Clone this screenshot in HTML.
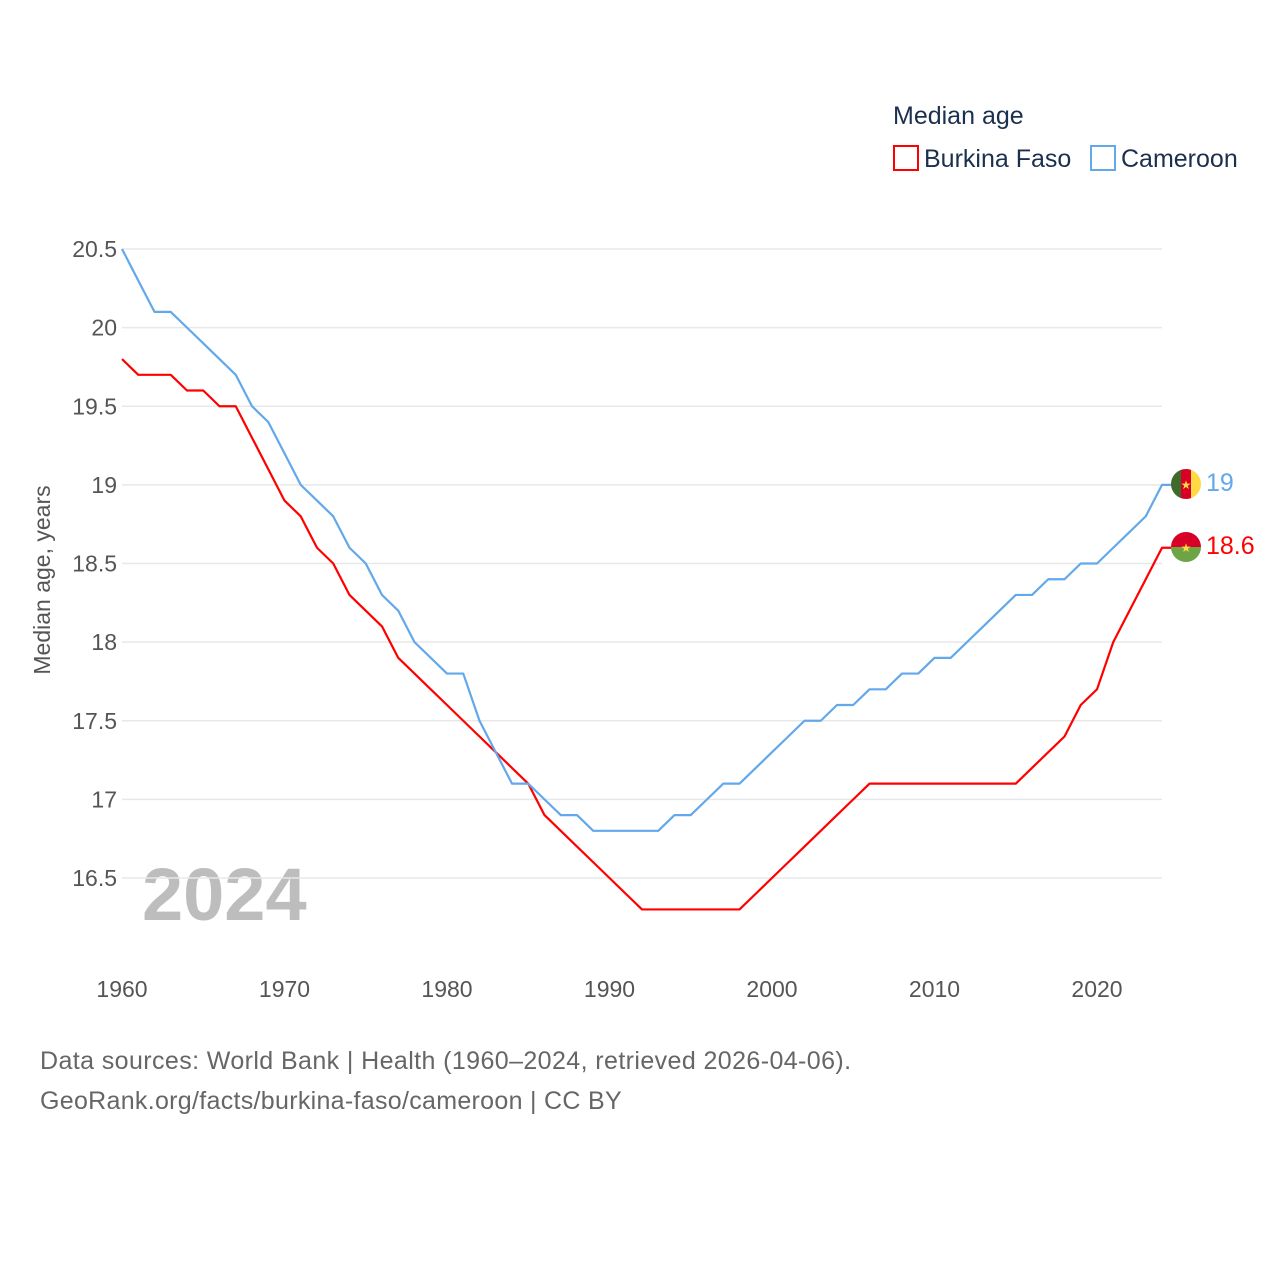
<!DOCTYPE html>
<html><head><meta charset="utf-8"><style>
body{margin:0;background:#fff;font-family:"Liberation Sans",sans-serif}
svg text{font-family:"Liberation Sans",sans-serif}
</style></head><body>
<svg id="c" width="1280" height="1280" viewBox="0 0 1280 1280">
<text x="893" y="124" font-size="25" fill="#1b2f4e">Median age</text>
<rect x="894" y="146" width="24" height="24" fill="none" stroke="#f00" stroke-width="2"/>
<text x="924" y="167" font-size="25" fill="#1b2f4e">Burkina Faso</text>
<rect x="1091" y="146" width="24" height="24" fill="none" stroke="#62a8ea" stroke-width="2"/>
<text x="1121" y="167" font-size="25" fill="#1b2f4e">Cameroon</text>
<text transform="translate(50,580) rotate(-90)" text-anchor="middle" font-size="23" fill="#555">Median age, years</text>
<text x="142" y="920" font-size="74" font-weight="bold" fill="#bdbdbd">2024</text>
<g id="grid"></g><g id="xt"></g><g id="lines"></g>
<g>
<clipPath id="cc"><circle cx="1186" cy="484" r="15"/></clipPath>
<g clip-path="url(#cc)"><rect x="1171" y="469" width="10" height="30" fill="#3f6b2a"/><rect x="1181" y="469" width="10" height="30" fill="#d80027"/><rect x="1191" y="469" width="10" height="30" fill="#ffda44"/></g>
<text x="1186" y="489" text-anchor="middle" font-size="12" fill="#ffda44">★</text></g>
<g>
<clipPath id="cb"><circle cx="1186" cy="547" r="15"/></clipPath>
<g clip-path="url(#cb)"><rect x="1171" y="532" width="30" height="15" fill="#d80027"/><rect x="1171" y="547" width="30" height="15" fill="#6da544"/></g>
<text x="1186" y="552" text-anchor="middle" font-size="12" fill="#ffda44">★</text></g>
<text x="1206" y="491" font-size="25" fill="#62a8ea">19</text>
<text x="1206" y="554" font-size="25" fill="#f00">18.6</text>
<text x="40" y="1069" font-size="25" fill="#666" letter-spacing="0.4">Data sources: World Bank | Health (1960–2024, retrieved 2026-04-06).</text>
<text x="40" y="1109" font-size="25" fill="#666" letter-spacing="0.3">GeoRank.org/facts/burkina-faso/cameroon | CC BY</text>
</svg>
<script>
const years=[];for(let y=1960;y<=2024;y++)years.push(y);
const burkina=[19.8,19.7,19.7,19.7,19.6,19.6,19.5,19.5,19.3,19.1,18.9,18.8,18.6,18.5,18.3,18.2,18.1,17.9,17.8,17.7,17.6,17.5,17.4,17.3,17.2,17.1,16.9,16.8,16.7,16.6,16.5,16.4,16.3,16.3,16.3,16.3,16.3,16.3,16.3,16.4,16.5,16.6,16.7,16.8,16.9,17.0,17.1,17.1,17.1,17.1,17.1,17.1,17.1,17.1,17.1,17.1,17.2,17.3,17.4,17.6,17.7,18.0,18.2,18.4,18.6];
const cameroon=[20.5,20.3,20.1,20.1,20.0,19.9,19.8,19.7,19.5,19.4,19.2,19.0,18.9,18.8,18.6,18.5,18.3,18.2,18.0,17.9,17.8,17.8,17.5,17.3,17.1,17.1,17.0,16.9,16.9,16.8,16.8,16.8,16.8,16.8,16.9,16.9,17.0,17.1,17.1,17.2,17.3,17.4,17.5,17.5,17.6,17.6,17.7,17.7,17.8,17.8,17.9,17.9,18.0,18.1,18.2,18.3,18.3,18.4,18.4,18.5,18.5,18.6,18.7,18.8,19.0];
const yTicks=[20.5,20,19.5,19,18.5,18,17.5,17,16.5];
const xTicks=[1960,1970,1980,1990,2000,2010,2020];
const X=v=>122+(v-1960)*16.25;
const Y=v=>878-(v-16.5)*157.25;
const NS='http://www.w3.org/2000/svg';
const mk=(t,a,p)=>{const e=document.createElementNS(NS,t);for(const k in a)e.setAttribute(k,a[k]);p.appendChild(e);return e;};
const grid=document.getElementById('grid');
yTicks.forEach(v=>{
 const l=mk('line',{x1:122,x2:1162,y1:Y(v),y2:Y(v),stroke:'#e8e8e8','stroke-width':1.5},grid);
 
 
 const t=mk('text',{x:117,y:Y(v)+8,'text-anchor':'end','font-size':23,fill:'#555'},grid);
 t.textContent=v;
 
 
});
const xt=document.getElementById('xt');
xTicks.forEach(v=>{
 const t=mk('text',{x:X(v),y:997,'text-anchor':'middle','font-size':23,fill:'#555'},xt);
 t.textContent=v;
 
 
});
const lines=document.getElementById('lines');
function draw(vals,color,name){
 const last=vals[vals.length-1];
 const d=vals.map((v,i)=>(i?'L':'M')+X(years[i]).toFixed(2)+','+Y(v).toFixed(2)).join(' ')+' L1172,'+Y(last).toFixed(2);
 const p=mk('path',{d:d,fill:'none',stroke:color,'stroke-width':2.2,'stroke-linejoin':'round'},lines);
 
 
}
draw(burkina,'#f00','line-burkina-faso');
draw(cameroon,'#62a8ea','line-cameroon');
</script>
</body></html>
